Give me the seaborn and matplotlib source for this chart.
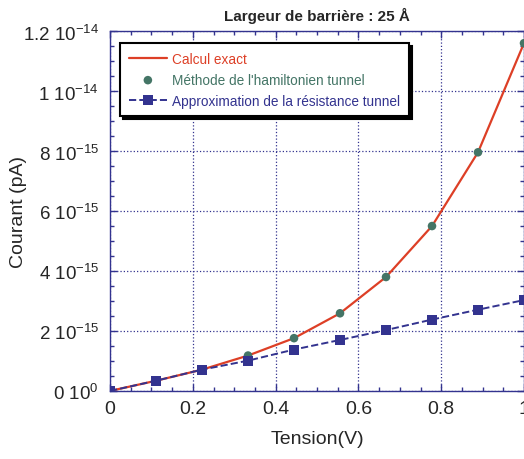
import matplotlib
matplotlib.use("Agg")
import matplotlib.pyplot as plt
from matplotlib.ticker import FixedLocator, MultipleLocator
import seaborn as sns

sns.set_style("ticks")
plt.rcParams["font.family"] = ["Liberation Sans", "DejaVu Sans"]

# données
tension = [0, 1/9, 2/9, 3/9, 4/9, 5/9, 6/9, 7/9, 8/9, 1.0]
courant_exact = [0, 0.34e-15, 0.71e-15, 1.18e-15, 1.76e-15, 2.59e-15,
                 3.80e-15, 5.50e-15, 7.96e-15, 11.6e-15]
courant_hamilt = [0, 0.34e-15, 0.71e-15, 1.18e-15, 1.76e-15, 2.59e-15,
                  3.80e-15, 5.50e-15, 7.96e-15, 11.6e-15]
courant_resist = [0, 0.34e-15, 0.71e-15, 1.01e-15, 1.38e-15, 1.70e-15,
                  2.03e-15, 2.38e-15, 2.71e-15, 3.03e-15]
yticks = [0, 2e-15, 4e-15, 6e-15, 8e-15, 10e-15, 12e-15]
ytick_labels = [r"0 10$^{\mathregular{0}}$", r"2 10$^{\mathregular{-15}}$",
                r"4 10$^{\mathregular{-15}}$", r"6 10$^{\mathregular{-15}}$",
                r"8 10$^{\mathregular{-15}}$", r"1 10$^{\mathregular{-14}}$",
                r"1.2 10$^{\mathregular{-14}}$"]
xticks = [0, 0.2, 0.4, 0.6, 0.8, 1.0]
xtick_labels = ["0", "0.2", "0.4", "0.6", "0.8", "1"]

rouge = "#dd3f26"
vert = "#447566"
bleu = "#33338f"

fig = plt.figure(figsize=(5.24, 4.6), dpi=100)
ax = fig.add_axes([0.21, 0.148, 0.79, 0.782])

sns.lineplot(x=tension, y=courant_exact, color=rouge, lw=1.6, ax=ax,
             label="Calcul exact")
sns.scatterplot(x=tension, y=courant_hamilt, color=vert, s=38, marker="o",
                edgecolor="none", ax=ax, label="Méthode de l'hamiltonien tunnel",
                zorder=3)
sns.lineplot(x=tension, y=courant_resist, color=bleu, lw=1.4, ls="--",
             marker="s", markersize=7, markeredgewidth=0, ax=ax,
             label="Approximation de la résistance tunnel", zorder=4)

ax.set_xlim(0, 1.0)
ax.set_ylim(0, 1.2e-14)
ax.xaxis.set_major_locator(FixedLocator(xticks))
ax.set_xticklabels(xtick_labels)
ax.xaxis.set_minor_locator(MultipleLocator(0.05))
ax.yaxis.set_major_locator(FixedLocator(yticks))
ax.set_yticklabels(ytick_labels)
ax.yaxis.set_minor_locator(MultipleLocator(0.5e-15))
ax.tick_params(which="both", direction="in", top=True, right=True,
               color=bleu, labelsize=14)
ax.tick_params(axis="y", labelsize=13.5)
ax.tick_params(which="major", length=5, width=1)
ax.tick_params(which="minor", length=3, width=1)
ax.tick_params(axis="x", pad=6.5)
ax.tick_params(axis="y", pad=8)
ax.grid(True, which="major", ls=":", color=bleu, lw=0.9)
for s in ax.spines.values():
    s.set_color(bleu)
    s.set_linewidth(1.0)

ax.set_xlabel("Tension(V)", fontsize=14)
ax.set_ylabel("Courant (pA)", fontsize=14)
ax.xaxis.set_label_coords(0.5, -0.11)
ax.yaxis.set_label_coords(-0.2, 0.5)
ax.set_title("Largeur de barrière : 25 Å", fontsize=11, fontweight="bold", pad=8)

leg = ax.legend(loc="upper left", bbox_to_anchor=(0.024, 0.967), borderaxespad=0,
                fancybox=False, frameon=True, fontsize=9.8, handlelength=2.8,
                shadow={"color": "black", "alpha": 1.0},
                borderpad=0.65, labelspacing=0.5, handletextpad=0.4)
leg.get_frame().set_edgecolor("black")
leg.get_frame().set_linewidth(1.5)
for txt, c in zip(leg.get_texts(), [rouge, vert, bleu]):
    txt.set_color(c)

fig.savefig("out.png", dpi=100)
